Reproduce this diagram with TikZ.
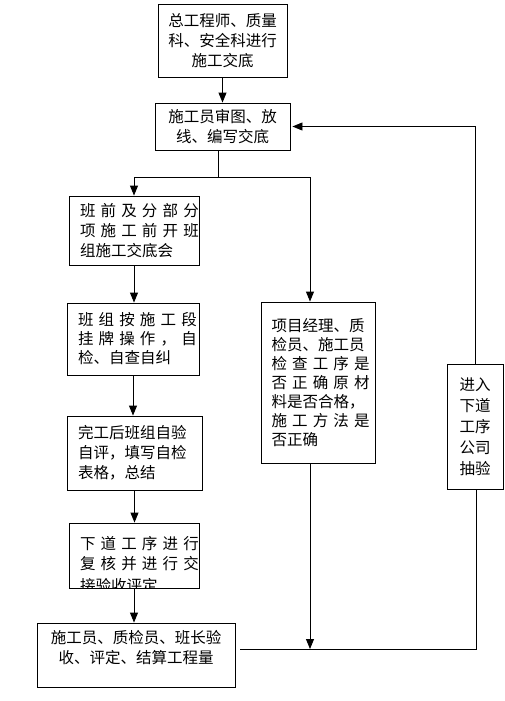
\documentclass[tikz,border=0pt]{standalone}
\usepackage{fontspec}
\newfontfamily\cjk{Noto Sans CJK SC}
\usetikzlibrary{arrows.meta, calc, positioning}
\newcommand{\spreadln}[1]{\makebox[\linewidth][s]{#1}}

\begin{document}
\begin{tikzpicture}[x=1pt, y=-1pt, line width=0.9pt,
    box/.style={draw, rectangle, inner sep=0pt, align=left,
      font=\fontsize{15.5}{20}\selectfont\cjk},
    arr/.style={-{Triangle[length=10pt,width=8pt]}}]
    \useasboundingbox (0,0) rectangle (504,701);
    \node[box, minimum width=129, minimum height=73, text width=113, align=center] (zong) at (222.5,40.5) {总工程师、质量\\科、安全科进行\\施工交底}; %总工程师
    \node[box, minimum width=135, minimum height=47, text width=115, align=center] (shen) at (222.5,126.5) {施工员审图、放\\线、编写交底}; %审图
    \node[box, minimum width=130, minimum height=69, text width=108] (banqian) at (134,230.5) {\spreadln{班 前 及 分 部 分}\\\spreadln{项 施 工 前 开 班}\\组施工交底会}; %班前
    \node[box, minimum width=132, minimum height=72, text width=110, font=\fontsize{15.5}{19}\selectfont\cjk] (banzu) at (133,339) {\spreadln{班 组 按 施 工 段}\\\spreadln{挂 牌 操 作 ， 自}\\检、自查自纠}; %班组
    \node[box, minimum width=135, minimum height=74, text width=113] (wangong) at (134.5,453) {完工后班组自验\\自评，填写自检\\表格，总结}; %完工后
    \node[box, minimum width=130, minimum height=65,
      path picture={\node[draw=none, inner sep=0pt, anchor=north, text width=108, align=left,
        font=\fontsize{15.5}{19.5}\selectfont\cjk] (fuhetxt) at ([yshift=-9pt]path picture bounding box.north)
        {\spreadln{下 道 工 序 进 行}\\\spreadln{复 核 并 进 行 交}\\[3pt]接验收评定};}] (fuhe) at (134,555.5) {}; %下道工序
    \node[box, minimum width=198, minimum height=64, text width=190, align=center] (yanshou) at (136,655) {施工员、质检员、班长验\\收、评定、结算工程量\\[-3pt]\mbox{}}; %验收
    \node[box, minimum width=114, minimum height=161, text width=93, font=\fontsize{15.5}{19}\selectfont\cjk] (xiangmu) at (318,382.5) {项目经理、质\\检员、施工员\\\spreadln{检 查 工 序 是}\\\spreadln{否 正 确 原 材}\\料是否合格，\\\spreadln{施 工 方 法 是}\\否正确}; %项目经理
    \node[box, minimum width=56, minimum height=125, text width=34, align=center, font=\fontsize{15.5}{21}\selectfont\cjk] (jinru) at (475,426.5) {进入\\下道\\工序\\公司\\抽验}; %进入下道工序

    \coordinate (fen) at (218,177); %分叉
    \coordinate (you) at (310,177);
    \coordinate (di) at (476,649);
    \coordinate (diz) at ([xshift=5pt]yanshou.east |- di);

    \draw[arr] (zong) -- (shen);
    \draw (shen.south -| fen) -- (fen);
    \draw[arr] (fen) -| (banqian.north);
    \draw[arr] (fen) -- (you) -- (you |- xiangmu.north);
    \draw[arr] (banqian.south) -- (banqian.south |- banzu.north);
    \draw[arr] (banzu.south) -- (banzu.south |- wangong.north);
    \draw[arr] (wangong.south) -- (wangong.south |- fuhe.north);
    \draw[arr] (fuhe.south) -- (fuhe.south |- yanshou.north);
    \draw[arr] (xiangmu.south -| you) -- (you |- di);
    \draw (jinru.south -| di) -- (di) -- (diz); %底线
    \draw[arr, shorten >=2pt] (jinru.north) |- (shen.east); %返回
\end{tikzpicture}
\end{document}
